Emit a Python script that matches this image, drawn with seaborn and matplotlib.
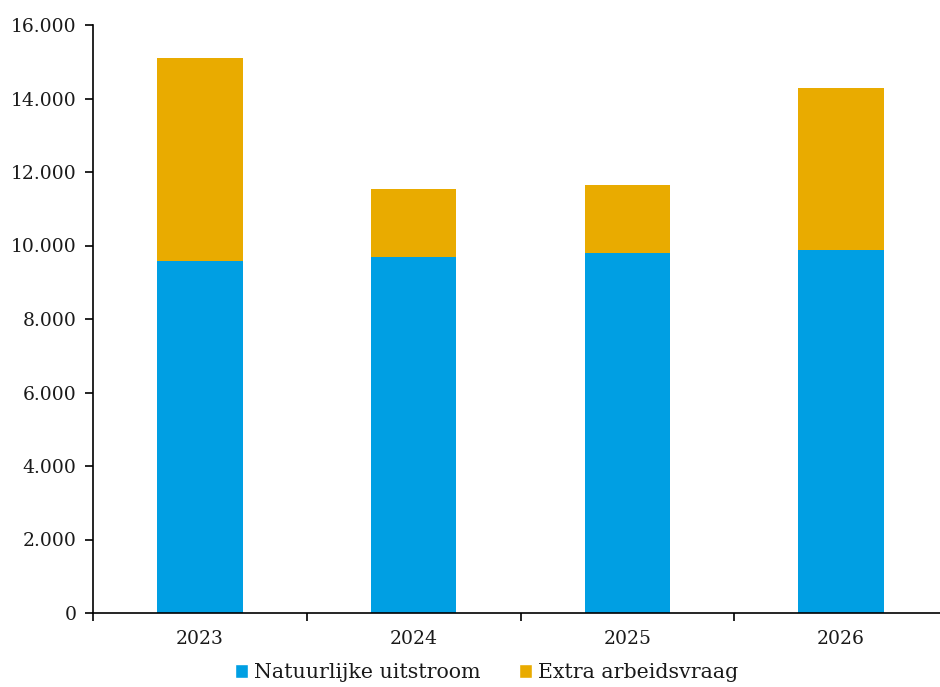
import matplotlib
matplotlib.use("Agg")
import matplotlib.pyplot as plt
import seaborn as sns
import pandas as pd
from matplotlib.patches import Patch
from matplotlib.ticker import FuncFormatter, FixedLocator

jaren = ["2023", "2024", "2025", "2026"]
natuurlijke_uitstroom = [9575, 9685, 9790, 9885]
extra_arbeidsvraag = [5520, 1850, 1850, 4400]

blauw = "#009FE3"
geel = "#E9AB00"

sns.set_theme(style="white")
plt.rcParams["font.family"] = ["DejaVu Serif"]

df = pd.DataFrame({
    "jaar": jaren,
    "natuurlijk": natuurlijke_uitstroom,
    "extra": extra_arbeidsvraag,
})
df["totaal"] = df["natuurlijk"] + df["extra"]

fig = plt.figure(figsize=(9.4, 6.87), dpi=100)
ax = fig.add_axes([93 / 940, 1 - 613 / 687, 855 / 940, 588 / 687])

# totaal in geel, daarboven de natuurlijke uitstroom in blauw
sns.barplot(data=df, x="jaar", y="totaal", color=geel, width=0.4,
            saturation=1, ax=ax, linewidth=0)
sns.barplot(data=df, x="jaar", y="natuurlijk", color=blauw, width=0.4,
            saturation=1, ax=ax, linewidth=0)

ax.set_xlim(-0.5, 3.5)
ax.set_ylim(0, 16000)
ax.set_yticks(range(0, 16001, 2000))
ax.yaxis.set_major_formatter(FuncFormatter(lambda v, p: f"{int(v):,}".replace(",", ".")))
ax.set_xlabel("")
ax.set_ylabel("")

for s in ["top", "right"]:
    ax.spines[s].set_visible(False)
for s in ["left", "bottom"]:
    ax.spines[s].set_color("black")
    ax.spines[s].set_linewidth(1.2)

ax.tick_params(axis="y", which="major", direction="out", length=6, width=1.2,
               color="black", labelsize=13.5, labelcolor="#1a1a1a", pad=6, left=True)
ax.tick_params(axis="x", which="major", length=0, labelsize=13.5,
               labelcolor="#1a1a1a", pad=12)
ax.xaxis.set_minor_locator(FixedLocator([-0.5, 0.5, 1.5, 2.5, 3.5]))
ax.tick_params(axis="x", which="minor", direction="out", length=6, width=1.2,
               color="black", bottom=True)

handles = [Patch(facecolor=blauw, label="Natuurlijke uitstroom"),
           Patch(facecolor=geel, label="Extra arbeidsvraag")]
fig.legend(handles=handles, loc="center", bbox_to_anchor=(0.5176, 0.021),
           ncol=2, frameon=False, fontsize=14.8, handlelength=0.65,
           handleheight=0.65, handletextpad=0.3, columnspacing=1.85,
           labelcolor="#1a1a1a")

fig.savefig("out.png", dpi=100)
